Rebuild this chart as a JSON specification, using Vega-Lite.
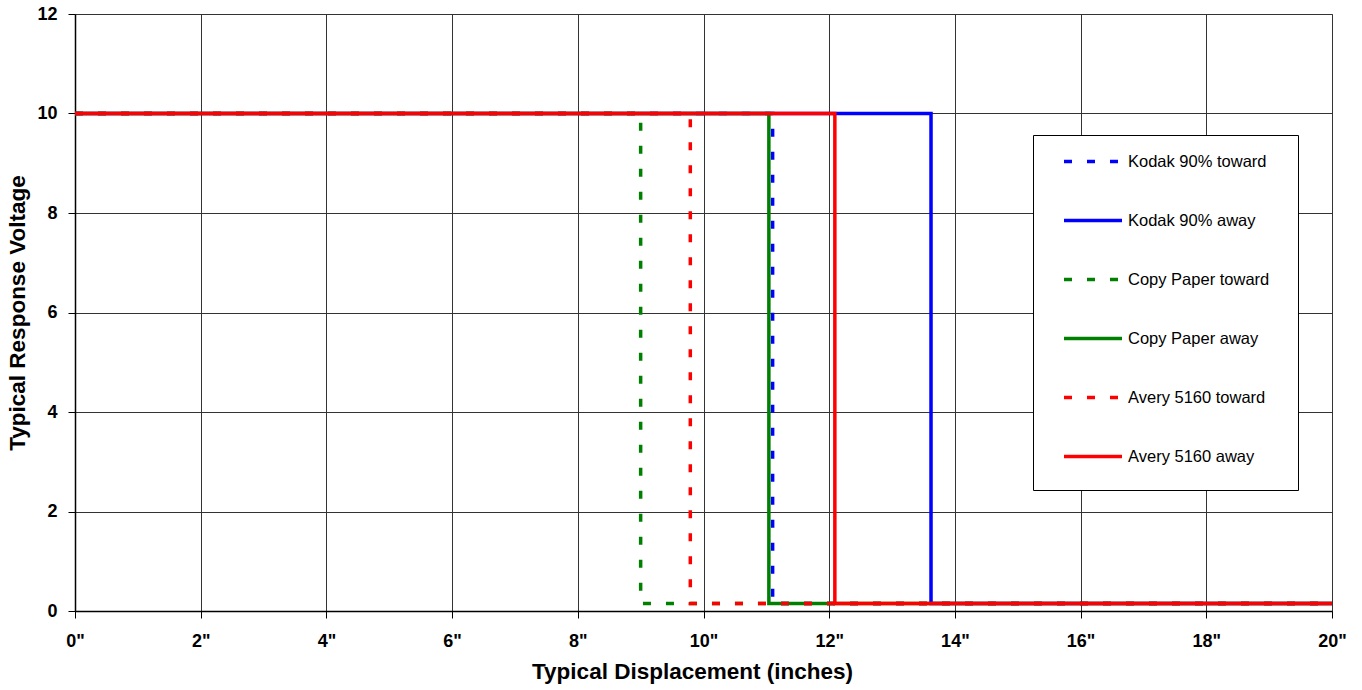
{
  "$schema": "https://vega.github.io/schema/vega-lite/v6.json",
  "autosize": {"type": "none"},
  "width": 1257,
  "height": 597,
  "padding": {"left": 75, "top": 14, "right": 30, "bottom": 79},
  "background": "white",
  "config": {
    "font": "Liberation Sans",
    "view": {"stroke": "#808080", "strokeWidth": 1}
  },
  "data": {
    "values": [
      {"series": "Kodak 90% toward", "o": 1, "x": 0, "y": 10},
      {"series": "Kodak 90% toward", "o": 2, "x": 11.1, "y": 10},
      {"series": "Kodak 90% toward", "o": 3, "x": 11.1, "y": 0.15},
      {"series": "Kodak 90% toward", "o": 4, "x": 20, "y": 0.15},
      {"series": "Kodak 90% away", "o": 1, "x": 0, "y": 10},
      {"series": "Kodak 90% away", "o": 2, "x": 13.62, "y": 10},
      {"series": "Kodak 90% away", "o": 3, "x": 13.62, "y": 0.15},
      {"series": "Kodak 90% away", "o": 4, "x": 20, "y": 0.15},
      {"series": "Copy Paper toward", "o": 1, "x": 0, "y": 10},
      {"series": "Copy Paper toward", "o": 2, "x": 9.0, "y": 10},
      {"series": "Copy Paper toward", "o": 3, "x": 9.0, "y": 0.15},
      {"series": "Copy Paper toward", "o": 4, "x": 20, "y": 0.15},
      {"series": "Copy Paper away", "o": 1, "x": 0, "y": 10},
      {"series": "Copy Paper away", "o": 2, "x": 11.04, "y": 10},
      {"series": "Copy Paper away", "o": 3, "x": 11.04, "y": 0.15},
      {"series": "Copy Paper away", "o": 4, "x": 20, "y": 0.15},
      {"series": "Avery 5160 toward", "o": 1, "x": 0, "y": 10},
      {"series": "Avery 5160 toward", "o": 2, "x": 9.79, "y": 10},
      {"series": "Avery 5160 toward", "o": 3, "x": 9.79, "y": 0.15},
      {"series": "Avery 5160 toward", "o": 4, "x": 20, "y": 0.15},
      {"series": "Avery 5160 away", "o": 1, "x": 0, "y": 10},
      {"series": "Avery 5160 away", "o": 2, "x": 12.09, "y": 10},
      {"series": "Avery 5160 away", "o": 3, "x": 12.09, "y": 0.15},
      {"series": "Avery 5160 away", "o": 4, "x": 20, "y": 0.15}
    ]
  },
  "mark": {"type": "line", "strokeWidth": 3.5, "clip": true},
  "encoding": {
    "x": {
      "field": "x", "type": "quantitative",
      "scale": {"domain": [0, 20], "nice": false, "zero": false},
      "axis": {
        "values": [0, 2, 4, 6, 8, 10, 12, 14, 16, 18, 20],
        "labelExpr": "datum.value + '\"'",
        "title": "Typical Displacement (inches)",
        "titleFont": "Liberation Sans", "titleFontSize": 22.5, "titleFontWeight": "bold", "titleColor": "#000",
        "titlePadding": 10,
        "titleX": 617,
        "labelFont": "Liberation Sans", "labelFontSize": 18, "labelFontWeight": "bold", "labelColor": "#000",
        "labelPadding": 14, "labelFlush": false,
        "domainColor": "#000", "domainWidth": 1.5,
        "tickColor": "#000", "tickSize": 7,
        "grid": true, "gridColor": "#333", "gridWidth": 1
      }
    },
    "y": {
      "field": "y", "type": "quantitative",
      "scale": {"domain": [0, 12], "nice": false},
      "axis": {
        "values": [0, 2, 4, 6, 8, 10, 12],
        "title": "Typical Response Voltage",
        "titleFont": "Liberation Sans", "titleFontSize": 22.5, "titleFontWeight": "bold", "titleColor": "#000",
        "titlePadding": 7,
        "labelFont": "Liberation Sans", "labelFontSize": 18, "labelFontWeight": "bold", "labelColor": "#000",
        "labelPadding": 11,
        "domainColor": "#000", "domainWidth": 1.5,
        "tickColor": "#000", "tickSize": 7,
        "grid": true, "gridColor": "#333", "gridWidth": 1
      }
    },
    "order": {"field": "o", "type": "quantitative"},
    "color": {
      "field": "series", "type": "nominal",
      "scale": {
        "domain": ["Kodak 90% toward", "Kodak 90% away", "Copy Paper toward", "Copy Paper away", "Avery 5160 toward", "Avery 5160 away"],
        "range": ["#0000ff", "#0000ff", "#008000", "#008000", "#ff0000", "#ff0000"]
      },
      "legend": {
        "title": ["\u00a0", "\u00a0"],
        "titleOrient": "right",
        "titlePadding": 19,
        "titleFontSize": 1,
        "titleLineHeight": 347,
        "titleBaseline": "top",
        "orient": "none",
        "legendX": 958,
        "legendY": 121,
        "direction": "vertical",
        "fillColor": "white",
        "strokeColor": "#000",
        "padding": 10,
        "rowPadding": 34,
        "symbolType": "M0.31,0H4.31",
        "symbolSize": 841,
        "symbolStrokeWidth": 3.5,
        "labelFont": "Liberation Sans",
        "labelFontSize": 16.5,
        "labelColor": "#000",
        "labelOffset": 52,
        "labelLimit": 400,
        "offset": 0
      }
    },
    "strokeDash": {
      "field": "series", "type": "nominal",
      "scale": {
        "domain": ["Kodak 90% toward", "Kodak 90% away", "Copy Paper toward", "Copy Paper away", "Avery 5160 toward", "Avery 5160 away"],
        "range": [[8, 15], [1, 0], [8, 15], [1, 0], [8, 15], [1, 0]]
      },
      "legend": null
    }
  }
}
